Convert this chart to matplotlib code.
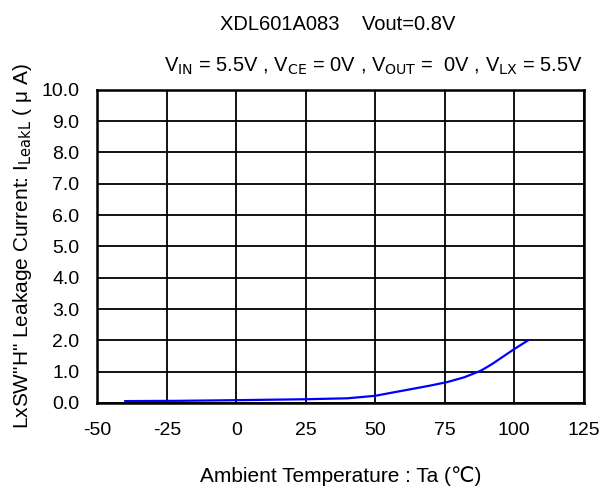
import numpy as np
import matplotlib.pyplot as plt

plt.rcParams['font.family'] = ['Liberation Sans', 'DejaVu Sans']
plt.rcParams['axes.unicode_minus'] = False

# leakage current vs ambient temperature
temp = [-40, -20, 0, 25, 40, 50, 56, 64, 70, 76, 82, 88, 92, 96, 100, 105]
leak = [0.06, 0.07, 0.09, 0.12, 0.15, 0.23, 0.33, 0.46, 0.56, 0.67, 0.82, 1.03, 1.24, 1.48, 1.72, 2.0]

xticks = [-50, -25, 0, 25, 50, 75, 100, 125]
yticks = np.arange(0, 10.01, 1.0)

fig = plt.figure(figsize=(6.13, 4.87), dpi=100)
ax = fig.add_axes([0.159, 0.1725, 0.793, 0.643])

ax.plot(temp, leak, color='#0000ff', linewidth=1.6)

ax.set_xlim(-50, 125)
ax.set_ylim(0, 10)
ax.set_xticks(xticks)
ax.set_yticks(yticks)
ax.set_yticklabels(['%.1f' % v for v in yticks])
ax.tick_params(length=0, labelsize=14)
ax.tick_params(axis='y', pad=13)
ax.tick_params(axis='x', pad=14)
ax.grid(True, color='black', linewidth=1.3)
for s in ax.spines.values():
    s.set_linewidth(1.8)

ax.set_xlabel('Ambient Temperature : Ta (\u2103)', fontsize=15, labelpad=19)
ax.set_ylabel('LxSW"H" Leakage Current: I$_{\\rm LeakL}$ ( \u03bc A)', fontsize=15, labelpad=5)

fig.text(0.551, 0.938, 'XDL601A083    Vout=0.8V', ha='center', va='baseline', fontsize=14.5)
fig.text(0.61, 0.852, 'V$_{\\rm IN}$ = 5.5V , V$_{\\rm CE}$ = 0V , V$_{\\rm OUT}$ =  0V , V$_{\\rm LX}$ = 5.5V',
         ha='center', va='baseline', fontsize=14.5)

fig.savefig('out.png', dpi=100)
